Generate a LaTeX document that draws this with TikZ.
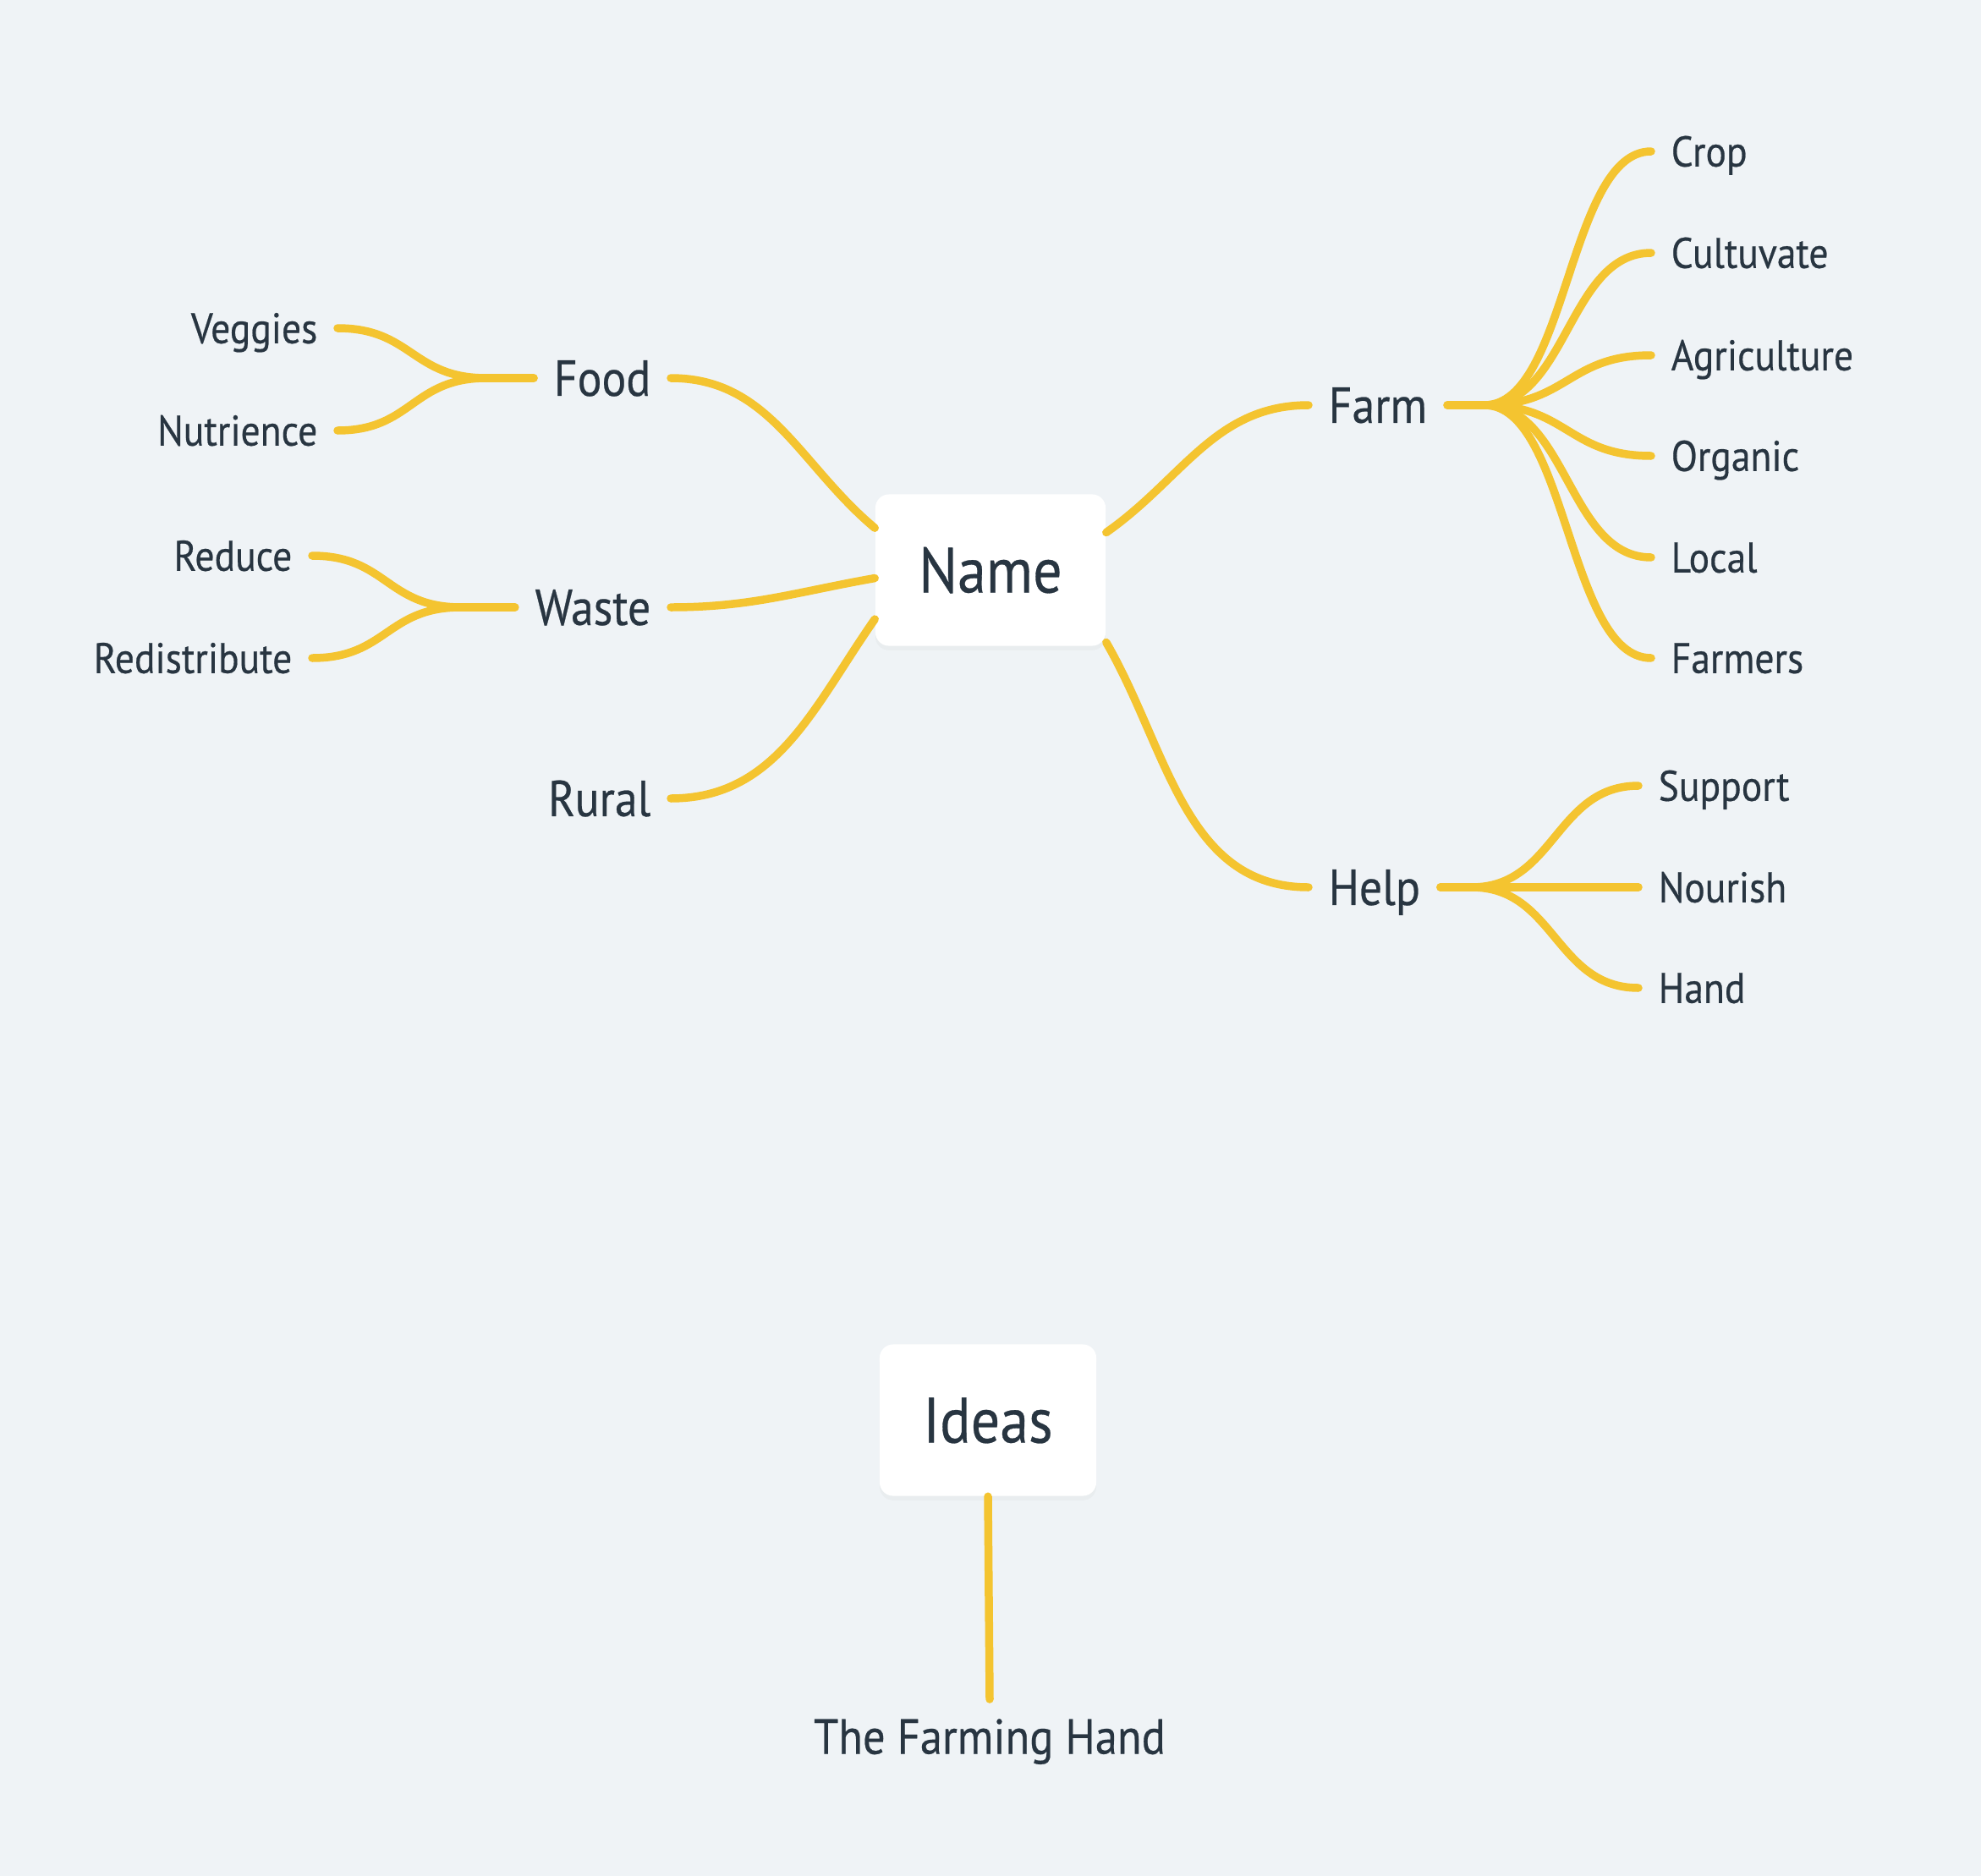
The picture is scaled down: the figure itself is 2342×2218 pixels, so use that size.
\documentclass[tikz,border=0pt]{standalone}
\usepackage{fontspec}
\setmainfont{PT Sans}[FakeStretch=0.9, FakeBold=0.4]
\usepackage{tikz}
\usetikzlibrary{shadows}
\definecolor{bgcol}{HTML}{EFF3F6}
\definecolor{linecol}{HTML}{F4C430}
\definecolor{inkcol}{HTML}{283541}

\begin{document}
\begin{tikzpicture}[x=0.01cm, y=0.01cm, text=inkcol]
		\tikzset{root/.style={fill=white, rounded corners=0.16cm, minimum width=2.72cm, minimum height=1.79cm, inner sep=0pt, text height=15.1pt, text depth=0pt, font=\fontsize{21.5}{26}\selectfont, drop shadow={shadow xshift=0pt, shadow yshift=-1.5pt, opacity=0.05}}}
		\tikzset{topic/.style={inner xsep=0.23cm, inner ysep=0pt, text height=11.9pt, text depth=0pt, font=\fontsize{17}{20}\selectfont}}
		\tikzset{leaf/.style={inner xsep=0.23cm, inner ysep=0pt, text height=10.1pt, text depth=0pt, font=\fontsize{14.4}{16}\selectfont}}
		\tikzset{branch/.style={draw=linecol, line width=2.7pt, line cap=round}}
		\fill[bgcol] (0,0) rectangle (2342,-2218);
		% centre boxes
		\node[root] (name) at (1171,-674) {Name};
		\node[root, minimum width=2.56cm] (ideas) at (1168,-1679) {Ideas};
		\node[topic, anchor=north, inner ysep=0.22cm, font=\fontsize{16.6}{20}\selectfont] (tfh) at (1170,-2009) {The Farming Hand};
		% left side
		\node[topic, anchor=east] (food) at (793,-447) {Food};
		\node[topic, anchor=east] (waste) at (793,-718) {Waste};
		\node[topic, anchor=east] (rural) at (793,-944) {Rural};
		\node[leaf, anchor=east] (veggies) at (399,-388) {Veggies};
		\node[leaf, anchor=east] (nutrience) at (399,-509) {Nutrience};
		\node[leaf, anchor=east] (reduce) at (369,-657) {Reduce};
		\node[leaf, anchor=east] (redistribute) at (369,-778) {Redistribute};
		\coordinate (foodj) at (575,-447);
		\coordinate (wastej) at (545,-718);
		% right side
		\node[topic, anchor=west] (farm) at (1547,-479) {Farm};
		\node[topic, anchor=west] (help) at (1547,-1049) {Help};
		\node[leaf, anchor=west] (crop) at (1952,-179) {Crop};
		\node[leaf, anchor=west] (cultuvate) at (1952,-299) {Cultuvate};
		\node[leaf, anchor=west] (agriculture) at (1952,-420) {Agriculture};
		\node[leaf, anchor=west] (organic) at (1952,-539) {Organic};
		\node[leaf, anchor=west] (local) at (1952,-659) {Local};
		\node[leaf, anchor=west] (farmers) at (1952,-778) {Farmers};
		\node[leaf, anchor=west] (support) at (1937,-929) {Support};
		\node[leaf, anchor=west] (nourish) at (1937,-1049) {Nourish};
		\node[leaf, anchor=west] (hand) at (1937,-1168) {Hand};
		\coordinate (farmj) at (1755,-479);
		\coordinate (helpj) at (1740,-1049);
		% connectors
		\draw[branch] (name.18) to[out=35, in=180] (farm.west);
		\draw[branch] (name.-32) to[out=-60, in=180] (help.west);
		\draw[branch] (food.east) to[out=0, in=140] (name.160);
		\draw[branch] (waste.east) to[out=0, in=190] (name.184);
		\draw[branch] (rural.east) to[out=0, in=-125] (name.203);
		\draw[branch] (ideas.south) -- (tfh.north);
		\draw[branch] (food.west) -- (foodj);
		\draw[branch] (foodj) .. controls +(-88,0) and +(88,0) .. (veggies.east);
		\draw[branch] (foodj) .. controls +(-88,0) and +(88,0) .. (nutrience.east);
		\draw[branch] (waste.west) -- (wastej);
		\draw[branch] (wastej) .. controls +(-88,0) and +(88,0) .. (reduce.east);
		\draw[branch] (wastej) .. controls +(-88,0) and +(88,0) .. (redistribute.east);
		\draw[branch] (farm.east) -- (farmj);
		\foreach \n in {crop,cultuvate,agriculture,organic,local,farmers}
			\draw[branch] (farmj) .. controls +(98,0) and +(-98,0) .. (\n.west);
		\draw[branch] (help.east) -- (helpj);
		\draw[branch] (helpj) .. controls +(98,0) and +(-98,0) .. (support.west);
		\draw[branch] (helpj) -- (nourish.west);
		\draw[branch] (helpj) .. controls +(98,0) and +(-98,0) .. (hand.west);
	\end{tikzpicture}
\end{document}
